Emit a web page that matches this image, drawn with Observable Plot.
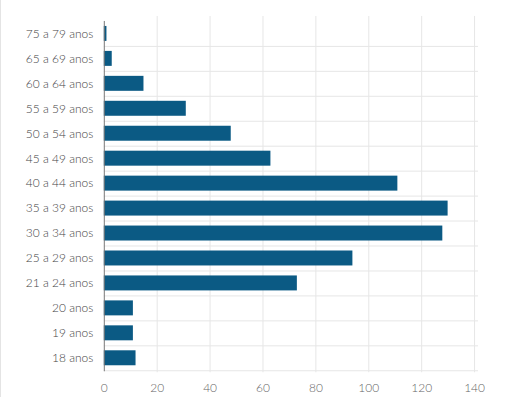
<!DOCTYPE html>
<html>
<head>
<meta charset="utf-8">
<script src="https://cdn.jsdelivr.net/npm/d3@7"></script>
<script src="https://cdn.jsdelivr.net/npm/@observablehq/plot@0.6"></script>
<style>
  html, body { margin: 0; padding: 0; background: #fff; }
  #chart { width: 506px; height: 397px; box-sizing: border-box; border-left: 1px solid #e4e4e4; position: relative; }
  #chart svg { position: absolute; left: -1px; top: 0; }
</style>
</head>
<body>
<div id="chart"></div>
<script>
const categories = ["75 a 79 anos","65 a 69 anos","60 a 64 anos","55 a 59 anos","50 a 54 anos","45 a 49 anos","40 a 44 anos","35 a 39 anos","30 a 34 anos","25 a 29 anos","21 a 24 anos","20 anos","19 anos","18 anos"];
const values = [1, 3, 15, 31, 48, 63, 111, 130, 128, 94, 73, 11, 11, 12];
const xTicks = [0, 20, 40, 60, 80, 100, 120, 140];

const data = categories.map((c, i) => ({category: c, value: values[i]}));

const chart = Plot.plot({
  width: 506,
  height: 397,
  marginLeft: 104,
  marginRight: 31,
  marginTop: 21,
  marginBottom: 26,
  style: {fontFamily: "Lato, sans-serif", fontSize: "12px", fontWeight: 300, color: "#555", background: "transparent"},
  x: {domain: [0, 140], ticks: xTicks, label: null},
  y: {domain: categories, padding: 0.42, paddingOuter: 0.21, label: null},
  marks: [
    Plot.gridX(xTicks.slice(1), {stroke: "#e6e6e6", strokeOpacity: 1, insetTop: -5, insetBottom: -2}),
    Plot.ruleY(categories, {y: d => d, dy: 12.5, stroke: "#e6e6e6", insetRight: -4}),
    Plot.barX(data, {x: "value", y: "category", fill: "#0b5a84"}),
    Plot.ruleX([0], {stroke: "#777", insetBottom: -1}),
    Plot.axisX(xTicks, {tickSize: 0, tickPadding: 13, fill: "#666", fontSize: 12, fontWeight: 300}),
    Plot.axisY({tickSize: 0, tickPadding: 11, fill: "#444", fontSize: 12, fontWeight: 300})
  ]
});
document.getElementById("chart").appendChild(chart);
</script>
</body>
</html>
